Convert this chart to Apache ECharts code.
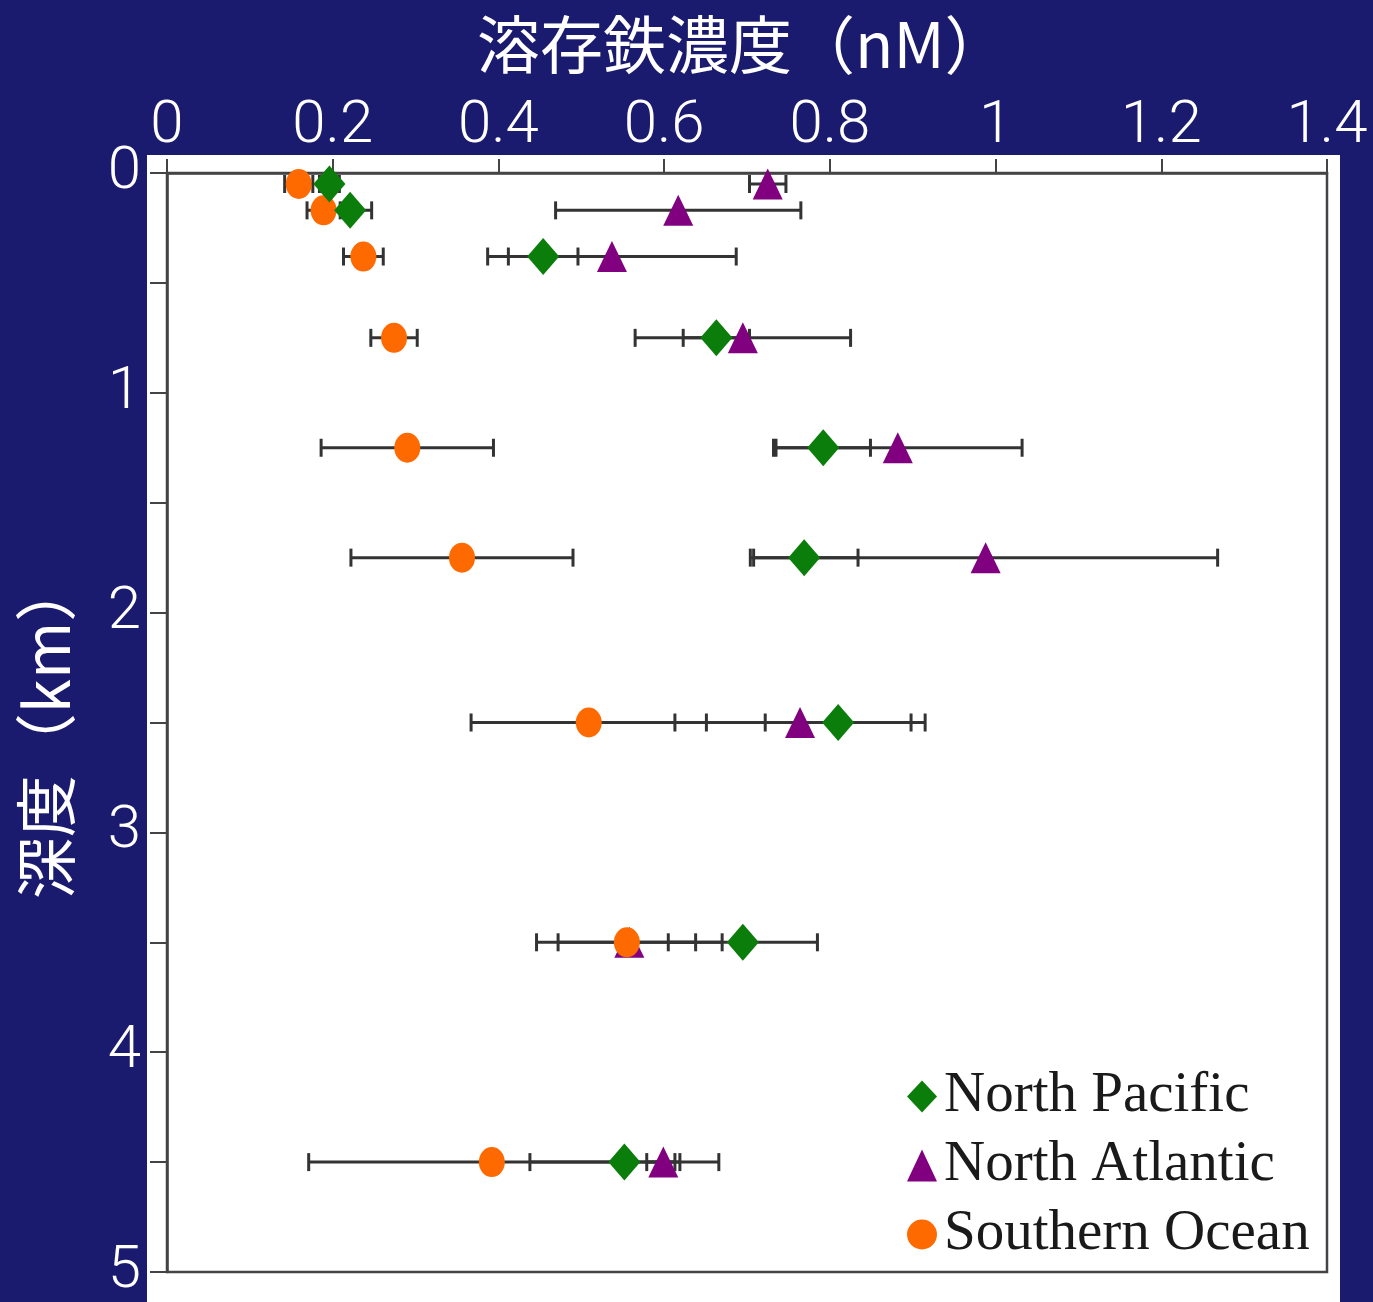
<!DOCTYPE html>
<html>
<head>
<meta charset="utf-8">
<script src="https://cdn.jsdelivr.net/npm/echarts@6/dist/echarts.min.js"></script>
<style>
html,body{margin:0;padding:0;background:#1a1a6e;}
#chart{width:1373px;height:1302px;}
</style>
</head>
<body>
<div id="chart"></div>
<script>
// Depth (km) of each sampling level
const depths = [0.05, 0.17, 0.38, 0.75, 1.25, 1.75, 2.5, 3.5, 4.5];
// Dissolved iron (nM) and error (±nM)
const npValues = [0.196, 0.221, 0.454, 0.663, 0.792, 0.769, 0.810, 0.695, 0.552];
const npErrors = [0.012, 0.026, 0.042, 0.040, 0.057, 0.065, 0.088, 0.090, 0.114];
const naValues = [0.725, 0.617, 0.537, 0.695, 0.882, 0.988, 0.764, 0.558, 0.599];
const naErrors = [0.022, 0.148, 0.150, 0.130, 0.150, 0.280, 0.151, 0.112, 0.020];
const soValues = [0.159, 0.189, 0.237, 0.274, 0.290, 0.356, 0.509, 0.555, 0.392];
const soErrors = [0.017, 0.020, 0.024, 0.028, 0.104, 0.134, 0.142, 0.083, 0.221];
const seriesNames = ['North Pacific', 'North Atlantic', 'Southern Ocean'];
const xTitle = '溶存鉄濃度（nM）';
const yTitle = '深度（km）';

const chart = echarts.init(document.getElementById('chart'));

function pts(vals) { return vals.map((v, i) => [v, depths[i]]); }
function errs(vals, e) { return vals.map((v, i) => [v - e[i], v + e[i], depths[i]]); }

function errorSeries(data) {
  return {
    type: 'custom',
    silent: true,
    z: 1,
    data: data,
    encode: { x: [0, 1], y: 2 },
    renderItem: function (params, api) {
      const lo = api.coord([api.value(0), api.value(2)]);
      const hi = api.coord([api.value(1), api.value(2)]);
      const h = 9;
      const st = { stroke: '#333', lineWidth: 3 };
      return {
        type: 'group',
        children: [
          { type: 'line', shape: { x1: lo[0], y1: lo[1], x2: hi[0], y2: hi[1] }, style: st },
          { type: 'line', shape: { x1: lo[0], y1: lo[1] - h, x2: lo[0], y2: lo[1] + h }, style: st },
          { type: 'line', shape: { x1: hi[0], y1: hi[1] - h, x2: hi[0], y2: hi[1] + h }, style: st }
        ]
      };
    }
  };
}

const labelFont = { color: '#ffffff', fontSize: 60, fontFamily: 'Roboto', fontWeight: 300 };

chart.setOption({
  backgroundColor: '#1a1a6e',
  animation: false,
  graphic: [{
    type: 'rect', z: -10, silent: true,
    shape: { x: 147, y: 155, width: 1193, height: 1147 },
    style: { fill: '#ffffff' }
  }],
  title: {
    text: xTitle,
    left: 472, top: 8,
    textStyle: { color: '#ffffff', fontSize: 63, fontWeight: 'normal', fontFamily: 'Noto Sans CJK JP' }
  },
  grid: {
    left: 167, top: 173, right: 46, bottom: 20,
    show: true, borderColor: '#444', borderWidth: 2.5, backgroundColor: 'transparent'
  },
  legend: {
    orient: 'vertical',
    left: 902, top: 1063,
    itemWidth: 30, itemHeight: 32, itemGap: 12,
    data: [
      { name: seriesNames[0], icon: 'diamond' },
      { name: seriesNames[1], icon: 'triangle' },
      { name: seriesNames[2], icon: 'circle' }
    ],
    textStyle: { color: '#1a1a1a', fontSize: 57, fontFamily: 'Liberation Serif', padding: [0, 0, 0, 2] }
  },
  xAxis: {
    type: 'value', position: 'top',
    min: 0, max: 1.4, interval: 0.2,
    axisLine: { show: true, lineStyle: { color: '#444', width: 2.5 } },
    axisTick: { show: true, length: 14, lineStyle: { color: '#444', width: 2 } },
    axisLabel: Object.assign({ margin: 16 }, labelFont),
    splitLine: { show: false }
  },
  yAxis: {
    type: 'value', inverse: true,
    min: 0, max: 5, interval: 1,
    name: yTitle, nameLocation: 'middle', nameGap: 90, nameRotate: 90,
    nameTextStyle: { color: '#ffffff', fontSize: 62, fontFamily: 'Noto Sans CJK JP', padding: [0, 14, 0, 0] },
    axisLine: { show: true, lineStyle: { color: '#444', width: 2.5 } },
    axisTick: { show: true, length: 17, lineStyle: { color: '#444', width: 2 } },
    minorTick: { show: true, splitNumber: 2, length: 17, lineStyle: { color: '#444', width: 2 } },
    axisLabel: Object.assign({ margin: 26 }, labelFont),
    splitLine: { show: false }
  },
  series: [
    errorSeries(errs(naValues, naErrors)),
    errorSeries(errs(npValues, npErrors)),
    errorSeries(errs(soValues, soErrors)),
    {
      name: seriesNames[1], type: 'scatter', z: 3,
      symbol: 'triangle', symbolSize: [30, 31],
      itemStyle: { color: '#800080', opacity: 1 },
      data: pts(naValues)
    },
    {
      name: seriesNames[2], type: 'scatter', z: 4,
      symbol: 'circle', symbolSize: [26, 30],
      itemStyle: { color: '#ff6a00', opacity: 1 },
      data: pts(soValues)
    },
    {
      name: seriesNames[0], type: 'scatter', z: 5,
      symbol: 'diamond', symbolSize: [32, 37],
      itemStyle: { color: '#0a7d0a', opacity: 1 },
      data: pts(npValues)
    }
  ]
});
</script>
</body>
</html>
